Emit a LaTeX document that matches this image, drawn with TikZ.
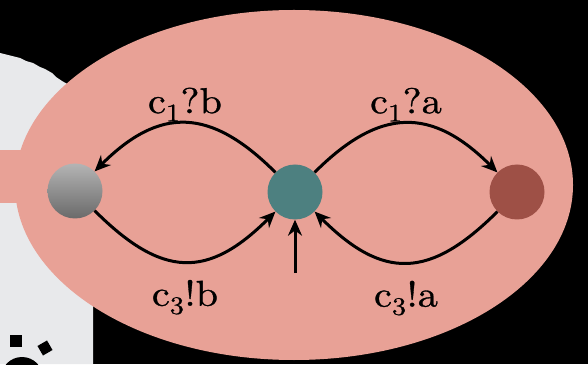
\documentclass[tikz,border=0pt]{standalone}
\usepackage{fontspec}
\usetikzlibrary{arrows.meta}
\newfontfamily\lblfont{lmroman10-regular}[Extension=.otf, FakeStretch=1.12, FakeBold=0.9]
\definecolor{salmon}{HTML}{E8A196}
\definecolor{paleg}{HTML}{E8E9EB}
\definecolor{tealst}{HTML}{4D8080}
\definecolor{redst}{HTML}{9E5046}
\definecolor{gtop}{HTML}{B4B4B4}
\definecolor{gbot}{HTML}{6A6A6A}
\tikzset{
  st/.style={circle, minimum size=55pt, inner sep=0pt, draw=none},
  tr/.style={line width=3pt, -{Stealth[length=16pt,width=14pt]}},
  lbl/.style={font=\lblfont\fontsize{36}{42}\selectfont, inner sep=0pt, anchor=base}
}
\begin{document}
\begin{tikzpicture}[x=1pt,y=1pt]
\useasboundingbox (0,0) rectangle (588,364);
\fill[black] (0,0) rectangle (588,364);
% pale backdrop at left
\fill[paleg] (0,0) -- (93,0) -- (93,90) -- (120,120) -- (120,250) -- (62,283) -- (56,287) -- (52,291) -- (45,295) -- (40,297) -- (33,301) -- (26,303) -- (20,306) -- (8,309) -- (0,311) -- cycle;
% icon fragments
\fill[black] (10,17) rectangle (22,29);
\fill[black, rotate around={30:(45,16)}] (39.5,10.5) rectangle (50.5,21.5);
\fill[black] (22,-14) circle[radius=21];
% tab and ellipse
\fill[salmon] (0,161) rectangle (40,214);
\fill[salmon] (294,179) ellipse[x radius=279, y radius=175];
% states
\node[st, top color=gtop, bottom color=gbot, shading=axis] (g) at (75,173) {};
\node[st, fill=tealst] (c) at (295,172) {};
\node[st, fill=redst] (r) at (517,172) {};
\coordinate (init) at (295,91);
% transitions
\draw[tr] (c) to[out=135,in=45,looseness=1.3] node[lbl, pos=0.5, yshift=10pt] {c\textsubscript{1}?b} (g);
\draw[tr] (c) to[out=45,in=135,looseness=1.3] node[lbl, pos=0.5, yshift=10pt] {c\textsubscript{1}?a} (r);
\draw[tr] (g) to[out=-45,in=-135,looseness=1.35] node[lbl, pos=0.5, yshift=-44pt] {c\textsubscript{3}!b} (c);
\draw[tr] (r) to[out=-135,in=-45,looseness=1.35] node[lbl, pos=0.5, yshift=-44pt] {c\textsubscript{3}!a} (c);
\draw[tr] (init) -- (c);
\end{tikzpicture}
\end{document}
